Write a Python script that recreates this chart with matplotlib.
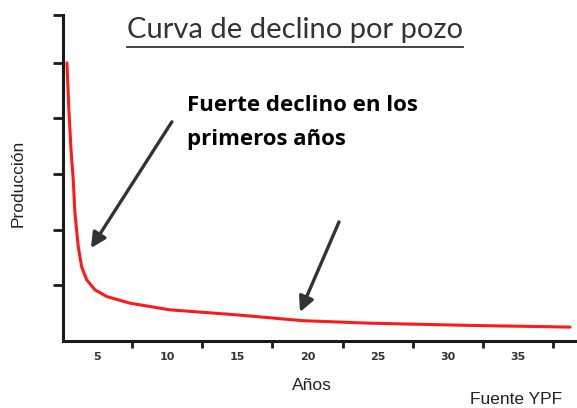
import matplotlib
matplotlib.use("Agg")
import matplotlib.pyplot as plt

# production decline curve per well
years = [2.85, 2.99, 3.14, 3.30, 3.42, 3.66, 3.90, 4.26, 4.85, 5.68, 7.34,
         10.19, 14.95, 19.67, 24.45, 31.6, 38.7]
production = [5.0, 4.15, 3.44, 2.90, 2.30, 1.69, 1.33, 1.10, 0.92, 0.80, 0.68,
              0.56, 0.47, 0.365, 0.32, 0.28, 0.25]

x_labels = [5, 10, 15, 20, 25, 30, 35]
x_ticks = [7.5, 12.5, 17.5, 22.5, 27.5, 32.5, 37.5]
y_ticks = [1, 2, 3, 4, 5, 5.86]

title = "Curva de declino por pozo"
note = "Fuerte declino en los\nprimeros años"
# arrows: (tail, head) in data coords
arrows = [((10.33, 3.94), (4.56, 1.67)),
          ((22.24, 2.14), (19.46, 0.52))]

fig = plt.figure(figsize=(5.77, 4.08), dpi=100)
ax = fig.add_axes([63/577, 67/408, 512/577, 326/408])

ax.plot(years, production, color="#ff1a1a", lw=2.2, solid_capstyle="round",
        solid_joinstyle="round")

ax.set_xlim(2.57, 39.06)
ax.set_ylim(0, 5.86)

for s in ["top", "right"]:
    ax.spines[s].set_visible(False)
for s in ["left", "bottom"]:
    ax.spines[s].set_linewidth(2.2)
    ax.spines[s].set_color("#1a1a1a")

ax.set_yticks(y_ticks)
ax.set_yticklabels([])
ax.tick_params(axis="y", direction="out", length=7, width=2, color="#1a1a1a")

ax.set_xticks(x_labels)
ax.set_xticklabels([str(v) for v in x_labels], fontsize=8, fontweight="bold",
                   color="#333333", family="DejaVu Sans")
ax.set_xticks(x_ticks, minor=True)
ax.tick_params(axis="x", which="major", length=0, pad=8)
ax.tick_params(axis="x", which="minor", direction="out", length=5, width=2, color="#1a1a1a")

for tail, head in arrows:
    ax.annotate("", xy=head, xytext=tail,
                arrowprops=dict(arrowstyle="-|>,head_length=0.9,head_width=0.45",
                                color="#333333", lw=2.4, shrinkA=0, shrinkB=0))

fig.text(295/577, 1 - 38/408, title, fontsize=21, family="Lato", color="#333333",
         ha="center", va="baseline")
fig.add_artist(plt.Line2D([127/577, 463/577], [1 - 47/408, 1 - 47/408],
                          color="#333333", lw=1.3))

fig.text(187/577, 1 - 95/408, note, fontsize=16, family="Open Sans",
         fontweight="bold", color="black", ha="left", va="top", linespacing=1.8)

fig.text(18/577, 1 - 183/408, "Producción", rotation=90, fontsize=12.5,
         family="Liberation Sans", color="#222222", ha="center", va="center")
fig.text(312/577, 1 - 386/408, "Años", fontsize=12.5, family="Liberation Sans",
         color="#222222", ha="center", va="center")
fig.text(516/577, 1 - 399/408, "Fuente YPF", fontsize=12.5, family="Liberation Sans",
         color="#222222", ha="center", va="center")

fig.savefig("out.png", dpi=100)
